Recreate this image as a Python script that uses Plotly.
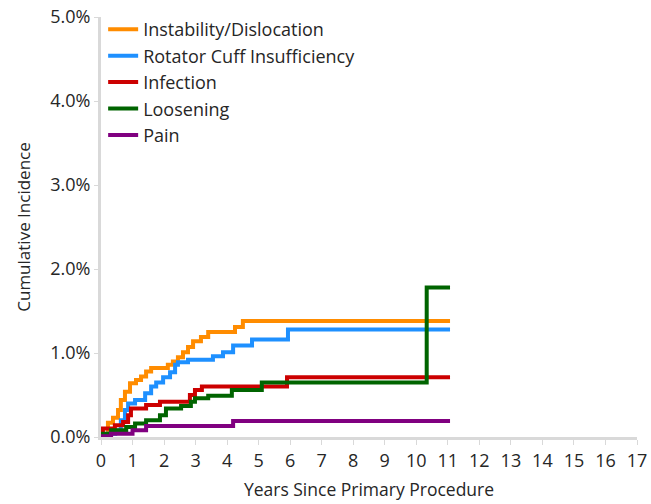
import plotly.graph_objects as go

# ---- data (years, cumulative incidence %) ----
instab_t = [0, 0.22, 0.38, 0.54, 0.63, 0.76, 0.92, 1.11, 1.27, 1.43, 1.59, 2.12, 2.28, 2.44, 2.6, 2.76, 2.92, 3.17, 3.4, 4.25, 4.5, 11.07]
instab_v = [0, 0.17, 0.23, 0.32, 0.44, 0.54, 0.64, 0.68, 0.72, 0.78, 0.82, 0.86, 0.90, 0.95, 1.01, 1.07, 1.14, 1.19, 1.25, 1.31, 1.38, 1.38]

cuff_t = [0, 0.2, 0.45, 0.63, 0.76, 0.86, 1.08, 1.4, 1.59, 1.75, 1.97, 2.19, 2.35, 2.44, 2.76, 3.55, 3.87, 4.19, 4.79, 5.93, 11.07]
cuff_v = [0, 0.04, 0.08, 0.20, 0.32, 0.40, 0.44, 0.52, 0.60, 0.65, 0.71, 0.77, 0.86, 0.89, 0.92, 0.96, 1.01, 1.09, 1.16, 1.28, 1.28]

infect_t = [0, 0.06, 0.44, 0.7, 0.86, 0.95, 1.43, 1.87, 2.82, 2.98, 3.2, 5.9, 11.07]
infect_v = [0, 0.10, 0.14, 0.18, 0.26, 0.34, 0.38, 0.42, 0.50, 0.56, 0.60, 0.71, 0.71]

loose_t = [0, 0.32, 0.8, 1.08, 1.43, 1.87, 2.06, 2.54, 2.85, 2.98, 3.4, 4.15, 5.1, 10.33, 11.07]
loose_v = [0.04, 0.08, 0.12, 0.16, 0.20, 0.26, 0.34, 0.37, 0.42, 0.46, 0.49, 0.56, 0.65, 1.78, 1.78]

pain_t = [0, 0.32, 1.0, 1.43, 4.19, 11.07]
pain_v = [0.01, 0.04, 0.08, 0.13, 0.19, 0.19]

series = [
    ("Instability/Dislocation", instab_t, instab_v, "#FF8C00"),
    ("Rotator Cuff Insufficiency", cuff_t, cuff_v, "#1E90FF"),
    ("Infection", infect_t, infect_v, "#CC0000"),
    ("Loosening", loose_t, loose_v, "#006400"),
    ("Pain", pain_t, pain_v, "#800080"),
]

x_ticks = list(range(0, 18))
y_ticks = [0, 1, 2, 3, 4, 5]

FONT = "Open Sans, Noto Sans, sans-serif"
TXT = "#262626"

fig = go.Figure()
for name, t, v, c in series:
    fig.add_trace(go.Scatter(x=t, y=v, name=name, mode="lines",
                             line=dict(color=c, width=4, shape="hv")))

fig.update_layout(
    width=651, height=504,
    margin=dict(l=101, r=14, t=17, b=67, autoexpand=False),
    paper_bgcolor="white", plot_bgcolor="white",
    font=dict(family=FONT, size=18, color=TXT),
    showlegend=True,
    legend=dict(x=0.004, y=1.014, xanchor="left", yanchor="top",
                bgcolor="rgba(0,0,0,0)", font=dict(size=18, color=TXT),
                itemwidth=30, tracegroupgap=0),
)
fig.update_xaxes(range=[0, 17], tickvals=x_ticks, ticktext=[str(v) for v in x_ticks],
                 showgrid=False, zeroline=False, showline=True, linecolor="#D9D9D9", linewidth=3,
                 ticks="outside", ticklen=5, tickcolor="#D9D9D9", tickwidth=1, automargin=False,
                 ticklabeloverflow="allow",
                 title=dict(text="Years Since Primary Procedure", font=dict(size=17.5), standoff=14),
                 tickfont=dict(size=18))
fig.update_yaxes(range=[0, 5], tickvals=y_ticks, ticktext=[f"{v:.1f}%" for v in y_ticks],
                 showgrid=False, zeroline=False, showline=True, linecolor="#D9D9D9", linewidth=3,
                 ticks="outside", ticklen=4, tickcolor="#D9D9D9", tickwidth=1, automargin=False,
                 ticklabeloverflow="allow",
                 title=dict(text="Cumulative Incidence", font=dict(size=17), standoff=16),
                 tickfont=dict(size=18))

fig.write_html("out.html", config={"displayModeBar": False},
               post_script="document.body.style.margin='0';document.body.style.overflow='hidden';")
